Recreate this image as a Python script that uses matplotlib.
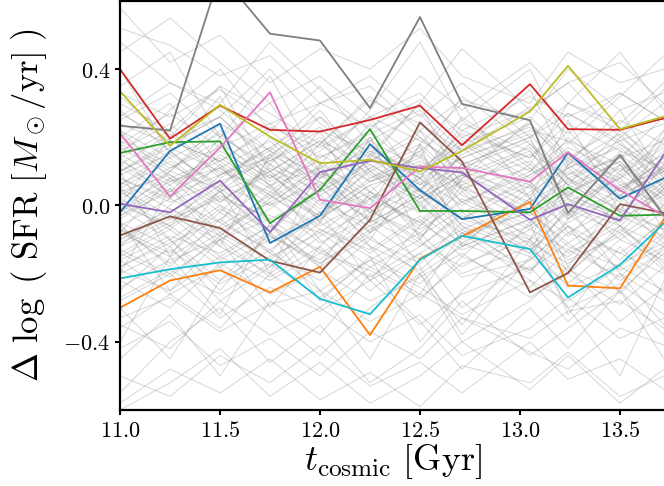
import numpy as np
import matplotlib
matplotlib.use("Agg")
import matplotlib.pyplot as plt
from matplotlib.ticker import FuncFormatter

plt.rcParams['mathtext.fontset'] = 'cm'
plt.rcParams['font.family'] = 'serif'

# snapshot times (Gyr)
t_cosmic = [11.0, 11.25, 11.5, 11.75, 12.0, 12.25, 12.5, 12.71, 13.05, 13.24, 13.5, 13.72]

# highlighted galaxies, delta log SFR
blue = [-0.02, 0.16, 0.24, -0.11, -0.03, 0.18, 0.045, -0.04, -0.01, 0.155, 0.02, 0.08]
orange = [-0.30, -0.22, -0.19, -0.255, -0.18, -0.38, -0.156, -0.09, 0.01, -0.235, -0.243, -0.04]
green = [0.154, 0.186, 0.188, -0.052, 0.046, 0.224, -0.016, -0.016, -0.02, 0.053, -0.03, -0.027]
red = [0.40, 0.196, 0.293, 0.222, 0.217, 0.251, 0.293, 0.177, 0.356, 0.224, 0.222, 0.256]
purple = [0.005, -0.02, 0.073, -0.078, 0.098, 0.131, 0.11, 0.097, -0.042, 0.004, -0.044, 0.15]
brown = [-0.088, -0.032, -0.066, -0.162, -0.197, -0.042, 0.244, 0.129, -0.255, -0.198, 0.004, -0.022]
pink = [0.212, 0.026, 0.17, 0.332, 0.017, -0.008, 0.114, 0.11, 0.07, 0.156, 0.045, -0.03]
gray = [0.234, 0.22, 0.68, 0.504, 0.484, 0.286, 0.553, 0.298, 0.25, -0.022, 0.148, -0.03]
olive = [0.335, 0.175, 0.295, 0.202, 0.124, 0.134, 0.10, 0.16, 0.276, 0.41, 0.224, 0.261]
cyan = [-0.214, -0.187, -0.167, -0.159, -0.274, -0.319, -0.159, -0.089, -0.128, -0.27, -0.174, -0.052]

highlight = [blue, orange, green, red, purple, brown, pink, gray, olive, cyan]

# rest of the sample (thin grey tracks), outer part of the spread
bg_wide = [
    [0.52, 0.47, 0.38, 0.44, 0.30, 0.35, 0.22, 0.31, 0.25, 0.40, 0.28, 0.33],
    [0.45, 0.55, 0.42, 0.30, 0.38, 0.26, 0.33, 0.20, 0.28, 0.36, 0.42, 0.30],
    [0.30, 0.22, 0.35, 0.27, 0.18, 0.31, 0.24, 0.16, 0.29, 0.21, 0.33, 0.25],
    [0.25, 0.33, 0.20, 0.12, 0.26, 0.15, 0.08, 0.22, 0.14, 0.27, 0.18, 0.10],
    [0.18, 0.10, 0.24, 0.16, 0.05, 0.19, 0.27, 0.13, 0.06, 0.20, 0.09, 0.17],
    [0.12, 0.21, 0.08, 0.17, 0.26, 0.10, 0.02, 0.15, 0.24, 0.11, 0.19, 0.05],
    [0.08, 0.02, 0.15, 0.06, -0.03, 0.11, 0.18, 0.07, -0.02, 0.09, 0.14, 0.03],
    [0.05, 0.13, 0.01, 0.10, 0.19, 0.04, -0.06, 0.08, 0.16, 0.02, -0.04, 0.12],
    [0.02, -0.06, 0.09, 0.14, 0.03, -0.08, 0.05, 0.12, 0.00, -0.09, 0.06, 0.10],
    [-0.03, 0.06, -0.08, 0.01, 0.10, -0.05, 0.03, -0.10, 0.04, 0.11, -0.02, -0.07],
    [-0.07, -0.14, -0.02, -0.11, -0.04, 0.06, -0.09, -0.01, -0.13, -0.05, 0.03, -0.10],
    [-0.10, -0.03, -0.15, -0.06, -0.17, -0.08, 0.01, -0.12, -0.04, -0.16, -0.09, 0.00],
    [-0.14, -0.21, -0.09, -0.18, -0.07, -0.15, -0.23, -0.11, -0.19, -0.08, -0.14, -0.20],
    [-0.18, -0.10, -0.22, -0.13, -0.25, -0.16, -0.08, -0.20, -0.12, -0.24, -0.17, -0.11],
    [-0.22, -0.30, -0.17, -0.26, -0.19, -0.28, -0.21, -0.14, -0.27, -0.20, -0.29, -0.18],
    [-0.28, -0.20, -0.33, -0.24, -0.31, -0.22, -0.35, -0.26, -0.18, -0.30, -0.23, -0.32],
    [-0.35, -0.42, -0.28, -0.38, -0.30, -0.40, -0.32, -0.44, -0.36, -0.27, -0.39, -0.33],
    [-0.42, -0.34, -0.47, -0.39, -0.50, -0.37, -0.45, -0.33, -0.43, -0.48, -0.36, -0.41],
    [-0.50, -0.56, -0.44, -0.52, -0.41, -0.53, -0.46, -0.55, -0.40, -0.51, -0.45, -0.54],
    [-0.58, -0.48, -0.55, -0.45, -0.57, -0.49, -0.59, -0.47, -0.52, -0.43, -0.56, -0.50],
    [0.40, 0.15, 0.32, 0.05, 0.22, -0.05, 0.18, 0.30, 0.02, 0.25, -0.02, 0.20],
    [-0.20, 0.05, -0.12, 0.15, -0.05, 0.20, -0.10, 0.08, 0.25, -0.03, 0.16, -0.08],
    [0.10, -0.15, 0.05, -0.20, 0.12, -0.08, 0.18, -0.12, 0.06, -0.18, 0.03, 0.14],
    [-0.40, -0.15, -0.32, -0.05, -0.25, -0.45, -0.20, -0.35, -0.10, -0.30, -0.50, -0.22],
    [0.35, 0.45, 0.20, 0.38, 0.12, 0.28, 0.48, 0.25, 0.40, 0.18, 0.32, 0.44],
    [0.00, 0.20, 0.35, 0.10, -0.05, 0.15, 0.30, 0.05, -0.10, 0.12, 0.28, 0.08],
    [-0.05, -0.25, -0.10, -0.30, -0.12, 0.02, -0.18, -0.38, -0.15, 0.00, -0.20, -0.35],
    [0.22, 0.08, -0.05, 0.14, 0.28, 0.10, -0.02, 0.16, 0.34, 0.12, 0.02, 0.22],
    [-0.30, -0.45, -0.22, -0.08, -0.28, -0.15, -0.40, -0.25, -0.05, -0.32, -0.12, -0.26],
    [0.15, 0.28, 0.40, 0.22, 0.35, 0.18, 0.08, 0.26, 0.12, 0.30, 0.45, 0.28],
    [-0.12, 0.00, 0.12, -0.05, -0.18, 0.04, 0.16, -0.02, -0.14, 0.08, -0.06, 0.05],
    [0.28, 0.16, 0.05, 0.20, 0.08, 0.24, 0.14, 0.32, 0.18, 0.06, 0.22, 0.12],
    [-0.45, -0.32, -0.50, -0.28, -0.38, -0.20, -0.34, -0.48, -0.30, -0.42, -0.25, -0.38],
    [0.05, -0.10, -0.25, -0.08, 0.06, -0.12, -0.28, -0.15, 0.02, -0.20, -0.06, -0.18],
    [0.58, 0.42, 0.50, 0.36, 0.46, 0.40, 0.52, 0.38, 0.30, 0.45, 0.36, 0.40],
    [-0.55, -0.40, -0.30, -0.46, -0.35, -0.52, -0.42, -0.28, -0.44, -0.36, -0.25, -0.45],
    [0.20, 0.30, 0.12, 0.02, 0.18, 0.32, 0.20, 0.10, 0.24, 0.14, 0.04, 0.16],
    [-0.08, 0.08, 0.00, -0.14, 0.02, -0.10, 0.10, -0.06, -0.20, -0.04, 0.12, -0.02],
    [0.32, 0.20, 0.26, 0.40, 0.24, 0.14, 0.30, 0.46, 0.28, 0.36, 0.20, 0.30],
    [-0.25, -0.12, -0.28, -0.18, -0.02, -0.22, -0.14, -0.30, -0.16, -0.06, -0.26, -0.12],
    [0.14, 0.02, 0.20, 0.30, 0.10, 0.00, 0.22, 0.04, 0.18, 0.08, 0.14, 0.26],
    [-0.02, 0.10, 0.22, 0.08, 0.16, 0.26, 0.06, 0.20, 0.10, 0.22, 0.06, 0.00],
    [0.48, 0.36, 0.30, 0.48, 0.34, 0.22, 0.38, 0.28, 0.42, 0.30, 0.24, 0.36],
    [-0.16, -0.26, -0.36, -0.20, -0.30, -0.18, -0.26, -0.08, -0.22, -0.34, -0.20, -0.28],
    [0.06, 0.16, 0.04, -0.08, 0.08, 0.20, 0.00, 0.12, 0.20, -0.04, 0.10, 0.18],
    [-0.36, -0.26, -0.18, -0.32, -0.44, -0.30, -0.20, -0.40, -0.28, -0.18, -0.34, -0.24],
    [0.26, 0.36, 0.28, 0.16, 0.30, 0.38, 0.26, 0.36, 0.20, 0.30, 0.22, 0.34],
    [-0.60, -0.52, -0.42, -0.56, -0.46, -0.58, -0.50, -0.40, -0.54, -0.44, -0.58, -0.48],
    [0.10, 0.18, 0.26, 0.12, 0.00, 0.14, 0.04, 0.24, 0.16, 0.02, 0.20, 0.10],
    [-0.06, -0.18, -0.04, 0.06, -0.10, -0.22, -0.06, 0.04, -0.12, -0.02, -0.16, -0.04],
]

# grey tracks in the dense core around the main sequence
bg_core = [
    [0.12, 0.04, 0.18, 0.09, -0.02, 0.07, 0.15, 0.01, 0.10, 0.19, 0.05, 0.13],
    [-0.04, 0.05, -0.09, 0.02, 0.11, -0.01, -0.10, 0.06, -0.05, 0.03, 0.12, -0.03],
    [0.16, 0.24, 0.11, 0.03, 0.14, 0.22, 0.09, 0.17, 0.02, 0.12, 0.21, 0.08],
    [-0.12, -0.05, 0.04, -0.09, -0.16, -0.02, 0.07, -0.06, -0.14, -0.01, -0.08, 0.05],
    [0.03, 0.11, 0.19, 0.07, 0.13, 0.02, -0.05, 0.09, 0.17, 0.06, -0.01, 0.08],
    [0.20, 0.12, 0.04, 0.15, 0.23, 0.08, 0.16, 0.25, 0.11, 0.03, 0.14, 0.19],
    [-0.08, -0.15, -0.06, 0.03, -0.07, -0.13, -0.03, -0.11, 0.02, -0.06, -0.14, -0.05],
    [0.07, -0.01, -0.09, 0.04, -0.03, 0.08, 0.14, 0.03, -0.06, 0.05, 0.13, 0.01],
    [-0.15, -0.07, -0.18, -0.10, -0.02, -0.12, -0.19, -0.08, -0.15, -0.23, -0.10, -0.16],
    [0.10, 0.19, 0.13, 0.22, 0.10, 0.02, 0.12, 0.06, 0.15, 0.09, 0.18, 0.07],
    [-0.01, -0.10, 0.00, -0.07, 0.05, -0.04, -0.12, -0.02, 0.07, -0.08, 0.00, -0.11],
    [0.04, 0.09, -0.02, 0.12, 0.06, 0.16, 0.04, -0.04, 0.09, 0.15, 0.03, 0.10],
    [-0.18, -0.11, -0.04, -0.14, -0.22, -0.10, -0.17, -0.05, -0.13, -0.20, -0.07, -0.15],
    [0.22, 0.14, 0.21, 0.10, 0.19, 0.12, 0.04, 0.18, 0.26, 0.15, 0.08, 0.20],
    [0.00, 0.08, 0.14, 0.05, -0.04, 0.06, 0.10, 0.18, 0.07, -0.03, 0.09, 0.02],
    [-0.06, 0.02, -0.05, -0.13, -0.03, 0.04, -0.07, 0.01, -0.09, -0.15, -0.04, 0.03],
    [0.15, 0.07, 0.11, 0.19, 0.05, 0.13, 0.20, 0.09, 0.01, 0.11, 0.17, 0.06],
    [-0.10, -0.02, -0.12, -0.20, -0.09, -0.01, -0.11, -0.18, -0.07, -0.13, -0.03, -0.09],
    [0.09, 0.15, 0.06, 0.00, 0.12, 0.04, -0.02, 0.10, 0.03, 0.13, 0.07, -0.01],
    [-0.20, -0.13, -0.23, -0.15, -0.08, -0.18, -0.10, -0.21, -0.16, -0.06, -0.19, -0.12],
    [0.18, 0.27, 0.17, 0.24, 0.14, 0.21, 0.28, 0.16, 0.23, 0.13, 0.25, 0.18],
    [0.01, -0.07, 0.04, 0.10, 0.01, -0.06, 0.02, 0.09, -0.03, 0.04, -0.05, 0.06],
    [-0.13, -0.20, -0.10, -0.04, -0.14, -0.06, -0.16, -0.09, -0.02, -0.12, -0.18, -0.08],
    [0.11, 0.03, 0.09, 0.17, 0.08, 0.15, 0.06, 0.14, 0.21, 0.08, 0.01, 0.12],
    [-0.03, 0.04, 0.11, 0.00, 0.07, -0.05, 0.03, -0.07, 0.01, 0.08, -0.02, 0.04],
    [0.06, 0.14, 0.02, 0.09, -0.01, 0.10, 0.17, 0.05, 0.11, 0.00, 0.08, 0.15],
    [-0.24, -0.16, -0.10, -0.21, -0.12, -0.25, -0.14, -0.07, -0.19, -0.11, -0.22, -0.13],
    [0.24, 0.18, 0.26, 0.13, 0.22, 0.16, 0.10, 0.21, 0.14, 0.24, 0.16, 0.11],
    [-0.09, -0.01, -0.07, 0.01, -0.11, -0.03, 0.05, -0.04, -0.10, 0.00, -0.06, -0.12],
    [0.13, 0.06, 0.16, 0.08, 0.18, 0.07, 0.12, 0.01, 0.09, 0.16, 0.04, 0.14],
    [0.02, 0.10, 0.05, -0.05, 0.04, 0.12, 0.03, 0.11, 0.19, 0.06, 0.13, 0.00],
    [-0.05, -0.12, -0.01, -0.09, -0.17, -0.07, 0.00, -0.08, -0.02, -0.11, -0.01, -0.07],
    [0.17, 0.09, 0.01, 0.11, 0.04, 0.13, 0.22, 0.12, 0.05, 0.14, 0.23, 0.09],
    [-0.16, -0.09, -0.14, -0.06, -0.13, -0.21, -0.12, -0.03, -0.11, -0.17, -0.08, -0.19],
    [0.08, 0.01, 0.07, 0.13, 0.20, 0.09, 0.01, 0.07, 0.13, 0.04, 0.11, 0.03],
    [-0.11, -0.04, 0.02, -0.03, -0.08, 0.03, -0.05, -0.13, -0.06, 0.02, -0.10, -0.02],
    [0.19, 0.11, 0.17, 0.06, 0.11, 0.19, 0.11, 0.19, 0.08, 0.17, 0.10, 0.22],
    [0.04, -0.04, 0.06, 0.15, 0.07, -0.02, 0.08, 0.00, 0.12, 0.03, -0.03, 0.07],
    [-0.19, -0.25, -0.15, -0.22, -0.14, -0.19, -0.27, -0.17, -0.10, -0.19, -0.25, -0.14],
    [0.14, 0.22, 0.09, 0.16, 0.09, 0.17, 0.08, 0.14, 0.22, 0.19, 0.12, 0.04],
    [-0.02, 0.07, 0.13, 0.03, -0.06, 0.02, 0.08, -0.04, 0.06, -0.04, 0.05, 0.11],
    [0.05, -0.03, -0.10, -0.01, 0.09, -0.02, -0.08, 0.02, -0.07, 0.01, 0.08, -0.04],
    [-0.07, -0.17, -0.08, -0.16, -0.05, -0.14, -0.04, -0.15, -0.24, -0.13, -0.21, -0.09],
    [0.27, 0.19, 0.13, 0.23, 0.17, 0.26, 0.19, 0.12, 0.20, 0.27, 0.19, 0.24],
    [0.00, -0.06, 0.03, -0.04, 0.03, 0.11, 0.02, 0.09, -0.01, 0.07, 0.15, 0.05],
    [-0.14, -0.06, -0.16, -0.08, -0.18, -0.09, -0.20, -0.12, -0.04, -0.14, -0.06, -0.17],
    [0.10, 0.17, 0.10, 0.04, 0.15, 0.07, 0.13, 0.05, -0.02, 0.10, 0.02, 0.11],
    [-0.27, -0.19, -0.26, -0.17, -0.27, -0.16, -0.24, -0.32, -0.22, -0.28, -0.18, -0.25],
    [0.33, 0.26, 0.34, 0.24, 0.30, 0.23, 0.31, 0.22, 0.32, 0.26, 0.33, 0.25],
    [-0.33, -0.27, -0.37, -0.29, -0.25, -0.34, -0.26, -0.33, -0.39, -0.31, -0.28, -0.36],
]

fig = plt.figure(figsize=(6.64, 4.86), dpi=100)
# right spine sits just past the figure edge, as in the original crop
ax = fig.add_axes([120 / 664, 76 / 486, 546 / 664, 409 / 486])

for track in bg_wide + bg_core:
    ax.plot(t_cosmic, track, color='grey', alpha=0.3, lw=0.75)

for track in highlight:
    ax.plot(t_cosmic, track, lw=1.3)

ax.set_xlim(11.0, 13.73)
ax.set_ylim(-0.6, 0.6)
ax.set_xticks([11.0, 11.5, 12.0, 12.5, 13.0, 13.5])
ax.set_yticks([-0.4, 0.0, 0.4])
fmt = FuncFormatter(lambda v, _: r'$%.1f$' % v)
ax.xaxis.set_major_formatter(fmt)
ax.yaxis.set_major_formatter(fmt)
ax.tick_params(direction='out', length=3.5, width=1.5, labelsize=16)
for sp in ax.spines.values():
    sp.set_linewidth(1.6)

ax.set_xlabel(r'$t_\mathrm{cosmic}\ [\mathrm{Gyr}]$', fontsize=26, labelpad=0)
ax.set_ylabel(r'$\Delta\ \log\ (\ \mathrm{SFR}\ [M_\odot/\mathrm{yr}]\ )$', fontsize=25, labelpad=10)

fig.savefig('out.png', dpi=100)
